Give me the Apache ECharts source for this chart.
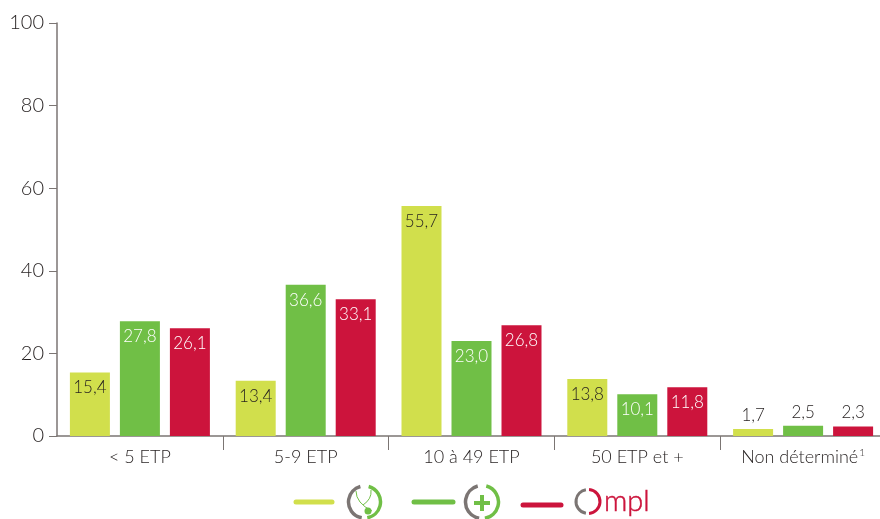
<!DOCTYPE html>
<html>
<head>
<meta charset="utf-8">
<style>
  html, body { margin: 0; padding: 0; background: #fff; }
  #chart { width: 880px; height: 519px; }
</style>
<script src="https://cdn.jsdelivr.net/npm/echarts@6/dist/echarts.min.js"></script>
</head>
<body>
<div id="chart"></div>
<script>
const categories = ['< 5 ETP', '5-9 ETP', '10 à 49 ETP', '50 ETP et +', 'Non déterminé'];
const yellowValues = [15.4, 13.4, 55.7, 13.8, 1.7];
const greenValues = [27.8, 36.6, 23.0, 10.1, 2.5];
const redValues = [26.1, 33.1, 26.8, 11.8, 2.3];

const yellow = '#d1df4c';
const green = '#70bf46';
const red = '#cc143c';
const grey = '#7b7573';
const dark = '#241f1f';
const fontName = 'Lato';
const fontThin = 300;

const chart = echarts.init(document.getElementById('chart'));

function toBars(values, color, insideColor) {
  return {
    type: 'bar',
    barWidth: 40,
    barGap: '25%',
    itemStyle: { color: color },
    data: values.map(v => ({
      value: v,
      label: {
        show: true,
        position: v < 5 ? 'top' : 'insideTop',
        distance: v < 5 ? 5 : 7,
        color: v < 5 ? dark : insideColor,
        fontFamily: fontName,
        fontWeight: fontThin,
        fontSize: 17,
        formatter: () => v.toFixed(1).replace('.', ',')
      }
    }))
  };
}

function arc(cx, cy, r, start, end, color, width) {
  return {
    type: 'arc',
    shape: { cx: cx, cy: cy, r: r, startAngle: start, endAngle: end, clockwise: true },
    style: { stroke: color, lineWidth: width, fill: null, lineCap: 'butt' },
    silent: true
  };
}

function legendLine(x1, x2, y, color, width, cap) {
  return {
    type: 'line',
    shape: { x1: x1, y1: y, x2: x2, y2: y },
    style: { stroke: color, lineWidth: width || 5, lineCap: cap || 'round' },
    silent: true
  };
}

function curve(x1, y1, cpx, cpy, x2, y2) {
  return {
    type: 'bezierCurve',
    shape: { x1: x1, y1: y1, cpx1: cpx, cpy1: cpy, x2: x2, y2: y2 },
    style: { stroke: green, lineWidth: 1, fill: null },
    silent: true
  };
}

const deg = Math.PI / 180;
const legendItems = [
  legendLine(296, 332, 502, yellow),
  arc(364.5, 502, 16, 100 * deg, 255 * deg, grey, 3.5),
  arc(364.5, 502, 16, -75 * deg, 80 * deg, green, 3.5),
  // stethoscope
  curve(356, 491, 356, 503, 372, 511),
  curve(371, 490, 372, 499, 363, 505),
  {
    type: 'circle',
    shape: { cx: 368, cy: 511, r: 3.5 },
    style: { fill: green },
    silent: true
  },

  legendLine(414, 453, 502, green),
  arc(482, 502, 16.5, 100 * deg, 255 * deg, grey, 3.5),
  arc(482, 502, 16.5, -75 * deg, 80 * deg, green, 3.5),
  legendLine(474, 490, 503, green, 4, 'butt'),
  {
    type: 'line',
    shape: { x1: 482, y1: 495, x2: 482, y2: 511 },
    style: { stroke: green, lineWidth: 4 },
    silent: true
  },

  legendLine(523, 561, 505, red),
  arc(588, 501.5, 12, 100 * deg, 260 * deg, grey, 3),
  arc(588, 501.5, 12, -85 * deg, 85 * deg, red, 3),
  {
    type: 'text',
    style: {
      x: 604, y: 502, text: 'mpl', fill: red,
      fontFamily: 'Lato', fontSize: 29, fontWeight: 300,
      stroke: red, lineWidth: 0.5,
      verticalAlign: 'middle'
    },
    silent: true
  }
];

const option = {
  animation: false,
  grid: { left: 57, top: 23, width: 829, height: 413, outerBoundsMode: 'none' },
  xAxis: {
    type: 'category',
    data: categories,
    axisTick: {
      show: true,
      alignWithLabel: false,
      length: 14,
      interval: i => i > 0,
      lineStyle: { color: grey, width: 1 }
    },
    axisLine: { lineStyle: { color: grey, width: 1.5 } },
    axisLabel: {
      color: dark,
      fontFamily: fontName,
      fontWeight: fontThin,
      fontSize: 18,
      margin: 12,
      interval: 0,
      hideOverlap: false,
      formatter: v => v === 'Non déterminé' ? v + '{sup|1}' : v,
      rich: {
        sup: { fontSize: 10, color: dark, fontFamily: fontName, verticalAlign: 'top', padding: [0, 0, 7, 1] }
      }
    }
  },
  yAxis: {
    type: 'value',
    min: 0,
    max: 100,
    interval: 20,
    axisLine: { show: true, lineStyle: { color: grey, width: 1.5 } },
    axisTick: { show: true, length: 8, lineStyle: { color: grey, width: 1 } },
    splitLine: { show: false },
    axisLabel: { color: dark, fontFamily: fontName, fontWeight: fontThin, fontSize: 20, margin: 13 }
  },
  series: [
    toBars(yellowValues, yellow, dark),
    toBars(greenValues, green, '#ffffff'),
    toBars(redValues, red, '#ffffff')
  ],
  graphic: { elements: legendItems }
};

chart.setOption(option);
</script>
</body>
</html>
